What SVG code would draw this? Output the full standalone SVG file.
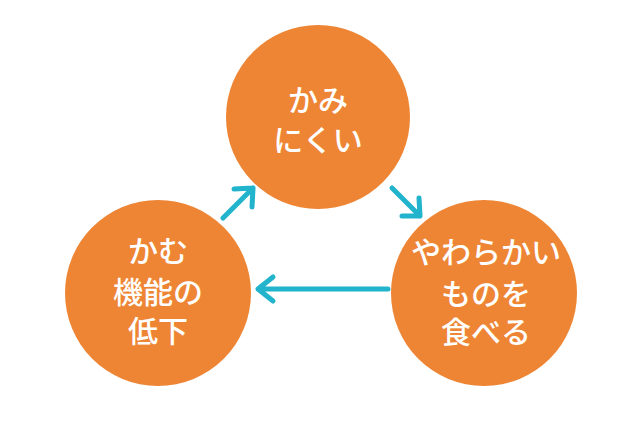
<svg xmlns="http://www.w3.org/2000/svg" width="640" height="425" viewBox="0 0 640 425">
  <style>
    .node { fill: #ee8535; }
    .label { fill: #ffffff; font-family: "Noto Sans CJK JP", sans-serif; font-size: 30px; font-weight: 500; text-anchor: middle; }
    .conn { fill: none; stroke: #21b4cc; stroke-width: 5; stroke-linecap: round; stroke-linejoin: round; }
  </style>
  <rect width="640" height="425" fill="#ffffff"/>

  <g id="node-top">
    <circle class="node" cx="318" cy="117" r="92"/>
    <text class="label" x="318" y="111">かみ</text>
    <text class="label" x="318" y="151">にくい</text>
  </g>

  <g id="node-left">
    <circle class="node" cx="158" cy="293" r="93"/>
    <text class="label" x="158" y="262">かむ</text>
    <text class="label" x="158" y="303">機能の</text>
    <text class="label" x="158" y="342">低下</text>
  </g>

  <g id="node-right">
    <circle class="node" cx="484" cy="293" r="93"/>
    <text class="label" x="486" y="263">やわらかい</text>
    <text class="label" x="486" y="305">ものを</text>
    <text class="label" x="486" y="343">食べる</text>
  </g>

  <g id="connectors">
    <!-- left to top -->
    <path class="conn" d="M223 218 L253 188 M234 189 L253 188 L252 207"/>
    <!-- top to right -->
    <path class="conn" d="M392 188 L420 216 M419 198 L420 216 L402 216"/>
    <!-- right to left -->
    <path class="conn" d="M388 289 L258 289 M273 277 L258 289 L273 301"/>
  </g>
</svg>
